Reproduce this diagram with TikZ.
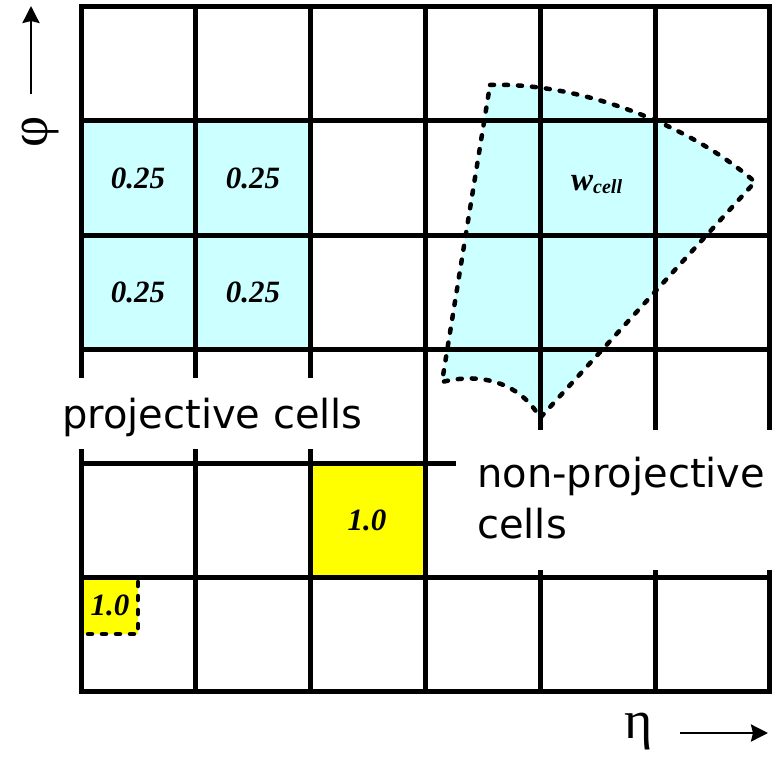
\documentclass[tikz,border=0pt]{standalone}
\usepackage{fontspec}
\setmainfont{Liberation Serif}
\newfontfamily\labelfont{DejaVu Sans}
\usetikzlibrary{arrows.meta}
\definecolor{cellcyan}{HTML}{CCFFFF}
\definecolor{cellyellow}{HTML}{FFFF00}
\begin{document}
\begin{tikzpicture}[x=1pt,y=-1pt,
  gridline/.style={line width=5pt, line cap=rect},
  dashline/.style={line width=4.5pt, line cap=round, dash pattern=on 4pt off 10pt, line join=round},
  num/.style={font=\fontsize{31}{34}\selectfont\bfseries\itshape, inner sep=0},
  lbl/.style={font=\labelfont\fontsize{40}{48}\selectfont, anchor=base west, inner sep=0},
  greek/.style={font=\fontsize{54}{54}\selectfont, inner sep=0},
  axisarrow/.style={line width=2.7pt, -{Stealth[length=17pt,width=17pt,inset=2pt]}}
]
\useasboundingbox (0,0) rectangle (776,757);
% fills
\fill[cellcyan] (81,121) rectangle (310,349);
\fill[cellcyan] (490,85) .. controls (580,82) and (690,125) .. (755,182)
   -- (540,418) .. controls (525,390) and (490,370) .. (442,382) -- cycle;
\fill[cellyellow] (310,463) rectangle (425,577);
\fill[cellyellow] (81,577) rectangle (138,634);
% grid
\foreach \x in {81,195,310,425,540,655,769} \draw[gridline] (\x,7) -- (\x,691);
\foreach \y in {7,121,235,349,463,577,691} \draw[gridline] (81,\y) -- (769,\y);
% white label areas
\fill[white] (0,378) rectangle (421,449);
\fill[white] (456,430) rectangle (776,570);
% dashed outlines
\draw[dashline] (490,85) .. controls (580,82) and (690,125) .. (755,182)
   -- (540,418) .. controls (525,390) and (490,370) .. (442,382) -- cycle;
\draw[dashline] (138,582) -- (138,634) -- (85,634);
% numbers
\node[num] (a11) at (138,178) {0.25};
\node[num] (a12) at (253,178) {0.25};
\node[num] (a21) at (138,292) {0.25};
\node[num] (a22) at (253,292) {0.25};
\node[num] (big) at (367,520) {1.0};
\node[num] (small) at (110,605) {1.0};
\node[anchor=base west, inner sep=0, font=\bfseries\itshape] (wcell) at (571,190)
  {\fontsize{33}{34}\selectfont w\raisebox{-3pt}{\fontsize{20}{22}\selectfont cell}};
% labels
\node[lbl] (proj) at (62,428) {projective cells};
\node[lbl] (nonproj) at (477,487) {non-projective};
\node[lbl] (cells) at (477,538) {cells};
% axes
\node[greek, rotate=90] (phi) at (41,132) {φ};
\node[greek, anchor=base] (eta) at (639,738) {η};
\coordinate (phistart) at (31,94);
\coordinate (phiend) at (31,6);
\coordinate (etastart) at (680,733);
\coordinate (etaend) at (768,733);
\draw[axisarrow] (phistart) -- (phiend);
\draw[axisarrow] (etastart) -- (etaend);
\end{tikzpicture}
\end{document}
